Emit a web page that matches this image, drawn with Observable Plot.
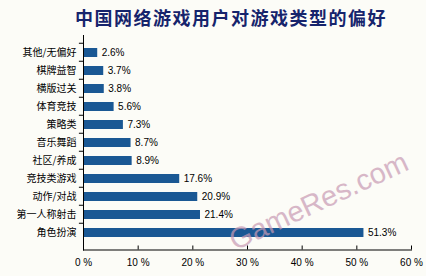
<!DOCTYPE html>
<html><head><meta charset="utf-8">
<script src="https://cdn.jsdelivr.net/npm/d3@7"></script>
<script src="https://cdn.jsdelivr.net/npm/@observablehq/plot@0.6"></script>
<style>
html,body{margin:0;padding:0;background:#fcfcf7;}
#wrap{position:relative;width:426px;height:276px;overflow:hidden;}
#title{position:absolute;left:18px;top:4px;width:426px;text-align:center;font-family:"Noto Sans CJK SC",sans-serif;font-weight:bold;font-size:18px;letter-spacing:1.5px;color:#16246c;line-height:26px;}
#wm{position:absolute;left:238px;top:224px;font-family:"Liberation Sans",Arial,sans-serif;font-size:29px;color:#c89ab4;opacity:0.7;transform:rotate(-25deg);transform-origin:left bottom;white-space:nowrap;}
</style></head>
<body><div id="wrap"><div id="chart"></div><div id="title">中国网络游戏用户对游戏类型的偏好</div><div id="wm">GameRes.com</div></div>
<script>
const categories = ["其他/无偏好","棋牌益智","横版过关","体育竞技","策略类","音乐舞蹈","社区/养成","竞技类游戏","动作/对战","第一人称射击","角色扮演"];
const values = [2.6,3.7,3.8,5.6,7.3,8.7,8.9,17.6,20.9,21.4,51.3];
const xTicks = [0,10,20,30,40,50,60];

const data = categories.map((c,i)=>({cat:c, v:values[i]}));
const font = "'Liberation Sans', Arial, sans-serif";
const step = (276 - 35 - 26.5) / categories.length;
const chart = Plot.plot({
  width:426, height:276,
  marginLeft:83, marginRight:15, marginTop:35, marginBottom:26.5,
  style:{background:"transparent", fontFamily:font, fontSize:"10px", color:"#000"},
  x:{domain:[0,60]},
  y:{domain:categories, padding:0.49},
  marks:[
    Plot.barX(data,{x:"v", y:"cat", fill:"#1a5894"}),
    Plot.text(data,{x:"v", y:"cat", text:d=>d.v.toFixed(1)+"%", textAnchor:"start", dx:4, fontSize:10, fill:"#000"}),
    Plot.text(data,{x:0, y:"cat", text:"cat", textAnchor:"end", dx:-7, fontSize:10, fill:"#000", fontFamily:"'Noto Sans CJK SC', sans-serif"}),
    Plot.ruleY(categories,{y:d=>d, x1:-0.75, x2:0, dy:-step/2, stroke:"#000"}),
    Plot.frame({anchor:"left", stroke:"#000"}),
    Plot.frame({anchor:"bottom", stroke:"#000"}),
    Plot.axisX({ticks:xTicks, tickFormat:d=>d+" %", tickSize:-4, tickPadding:13, anchor:"bottom", fontSize:10, label:null}),
    Plot.axisY({ticks:[], label:null})
  ]
});
document.getElementById("chart").appendChild(chart);
</script></body></html>
